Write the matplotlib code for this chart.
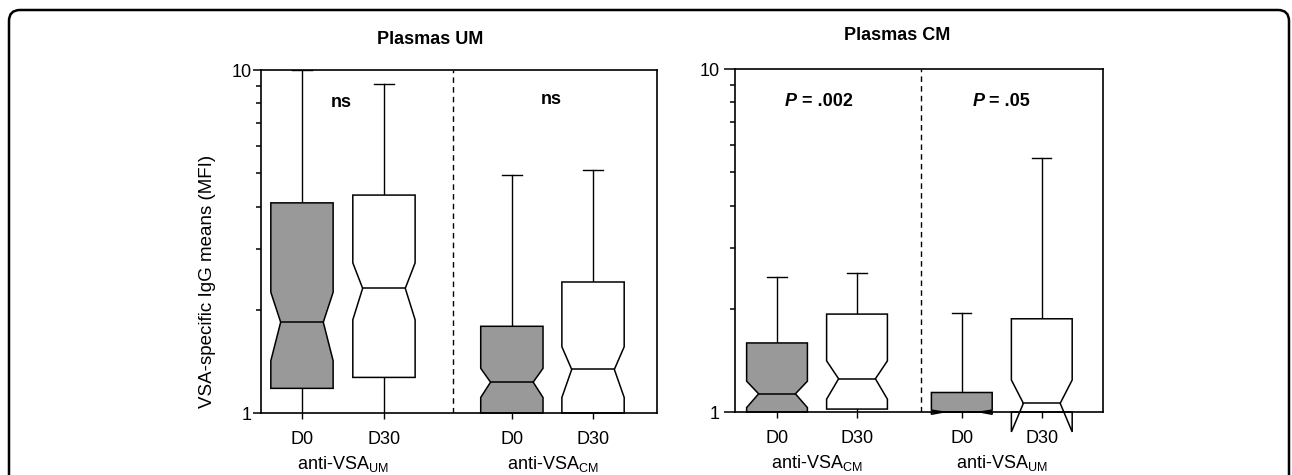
import numpy as np
import matplotlib
matplotlib.use("Agg")
import matplotlib.pyplot as plt
from matplotlib.patches import Polygon, FancyBboxPatch
from matplotlib.ticker import NullFormatter, FixedLocator

plt.rcParams["font.family"] = ["Liberation Sans", "DejaVu Sans"]
plt.rcParams["mathtext.fontset"] = "custom"
plt.rcParams["mathtext.rm"] = "Liberation Sans"
plt.rcParams["mathtext.it"] = "Liberation Sans:italic"
plt.rcParams["mathtext.bf"] = "Liberation Sans:bold"

# Dati (MFI, scala log)
days = ["D0", "D30", "D0", "D30"]

# Plasmas UM: anti-VSA_UM (D0, D30), anti-VSA_CM (D0, D30)
um_whislo = [1.0, 1.0, 1.0, 1.0]
um_q1 = [1.18, 1.27, 1.0, 1.0]
um_notch_lo = [1.42, 1.87, 1.11, 1.11]
um_med = [1.84, 2.31, 1.23, 1.34]
um_notch_hi = [2.25, 2.74, 1.35, 1.56]
um_q3 = [4.1, 4.32, 1.79, 2.41]
um_whishi = [10.0, 9.1, 4.94, 5.11]

# Plasmas CM: anti-VSA_CM (D0, D30), anti-VSA_UM (D0, D30)
cm_whislo = [1.0, 1.0, 1.0, 1.0]
cm_q1 = [1.0, 1.02, 1.0, 1.0]
cm_notch_lo = [1.03, 1.09, 0.985, 0.875]
cm_med = [1.13, 1.25, 1.0, 1.06]
cm_notch_hi = [1.23, 1.41, 1.013, 1.24]
cm_q3 = [1.59, 1.93, 1.14, 1.87]
cm_whishi = [2.47, 2.54, 1.95, 5.5]

box_colors = ["#999999", "white", "#999999", "white"]


def notchedBox(ax, x, w, inset, whislo, q1, nlo, med, nhi, q3, whishi, color):
    xl, xr = x - w / 2, x + w / 2
    # baffi
    cap = 0.12
    ax.plot([x, x], [q3, whishi], color="black", lw=1, zorder=2)
    ax.plot([x - cap, x + cap], [whishi, whishi], color="black", lw=1, zorder=2)
    ax.plot([x, x], [whislo, q1], color="black", lw=1, zorder=2)
    # scatola con notch (si ripiega se il notch supera il quartile)
    verts = [
        (xl, q1), (xl, nlo), (xl + inset, med), (xl, nhi), (xl, q3),
        (xr, q3), (xr, nhi), (xr - inset, med), (xr, nlo), (xr, q1),
    ]
    poly = Polygon(verts, closed=True, facecolor=color, edgecolor="black",
                   lw=1.1, zorder=2, clip_on=False)
    ax.add_patch(poly)
    ax.plot([xl + inset, xr - inset], [med, med], color="black", lw=1.1,
            zorder=2.1, clip_on=False)


def setupAxis(ax, positions, xlim, divider, groups):
    ax.set_yscale("log")
    ax.set_ylim(1, 10)
    ax.set_xlim(*xlim)
    ax.yaxis.set_major_locator(FixedLocator([1, 10]))
    ax.set_yticklabels(["1", "10"])
    ax.yaxis.set_minor_locator(FixedLocator(np.arange(2, 10)))
    ax.yaxis.set_minor_formatter(NullFormatter())
    ax.tick_params(axis="y", which="major", length=6, width=1.1, labelsize=13, pad=1)
    ax.tick_params(axis="y", which="minor", length=3.5, width=1.1)
    ax.set_xticks(positions)
    ax.set_xticklabels(days)
    ax.tick_params(axis="x", length=4, width=1, labelsize=13, pad=9)
    for s in ax.spines.values():
        s.set_linewidth(1.2)
    ax.axvline(divider, color="black", lw=1, ls=(0, (4, 3)))
    for gx, gtxt in groups:
        ax.text(gx, -0.15, gtxt, transform=ax.get_xaxis_transform(),
                ha="center", va="center", fontsize=13)


fig = plt.figure(figsize=(12.92, 4.75), dpi=100)

# cornice arrotondata
frame = FancyBboxPatch((0.09, -0.4), 12.8, 5.05, boxstyle="round,pad=0,rounding_size=0.11",
                       transform=fig.dpi_scale_trans, facecolor="none",
                       edgecolor="black", lw=1.8)
fig.patches.append(frame)

# pannello sinistro: Plasmas UM
ax1 = fig.add_axes([0.202, 0.1305, 0.3065, 0.722])
pos1 = [1, 2, 3.56, 4.55]
for i in range(4):
    notchedBox(ax1, pos1[i], 0.76, 0.12, um_whislo[i], um_q1[i], um_notch_lo[i],
               um_med[i], um_notch_hi[i], um_q3[i], um_whishi[i], box_colors[i])
setupAxis(ax1, pos1, (0.5, 5.33), 2.84,
          [(1.5, r"anti-VSA$_{\mathrm{UM}}$"), (4.06, r"anti-VSA$_{\mathrm{CM}}$")])
ax1.text(1.48, 8.07, "ns", ha="center", va="center", fontsize=13, fontweight="bold")
ax1.text(4.04, 8.23, "ns", ha="center", va="center", fontsize=13, fontweight="bold")

# pannello destro: Plasmas CM
ax2 = fig.add_axes([0.5689, 0.1326, 0.2848, 0.722])
pos2 = [1, 2, 3.31, 4.31]
for i in range(4):
    notchedBox(ax2, pos2[i], 0.76, 0.15, cm_whislo[i], cm_q1[i], cm_notch_lo[i],
               cm_med[i], cm_notch_hi[i], cm_q3[i], cm_whishi[i], box_colors[i])
setupAxis(ax2, pos2, (0.475, 5.075), 2.8,
          [(1.5, r"anti-VSA$_{\mathrm{CM}}$"), (3.81, r"anti-VSA$_{\mathrm{UM}}$")])
ax2.tick_params(axis="y", which="major", length=8, pad=3)

# P-value: "P" in corsivo grassetto, resto in grassetto
for px, ptxt in [(1.1, " = .002"), (3.44, " = .05")]:
    t = ax2.text(px, 8.07, "P", ha="left", va="center", fontsize=13,
                 fontweight="bold", style="italic")
    ax2.annotate(ptxt, xy=(1, 0.5), xycoords=t, ha="left", va="center",
                 fontsize=13, fontweight="bold")

fig.text(430 / 1292, 1 - 40 / 475, "Plasmas UM", ha="center", va="center",
         fontsize=13, fontweight="bold")
fig.text(897 / 1292, 1 - 35 / 475, "Plasmas CM", ha="center", va="center",
         fontsize=13, fontweight="bold")
fig.text(207 / 1292, 1 - 281 / 475, "VSA-specific IgG means (MFI)", rotation=90,
         ha="center", va="center", fontsize=13.5)

fig.savefig("out.png", dpi=100)
